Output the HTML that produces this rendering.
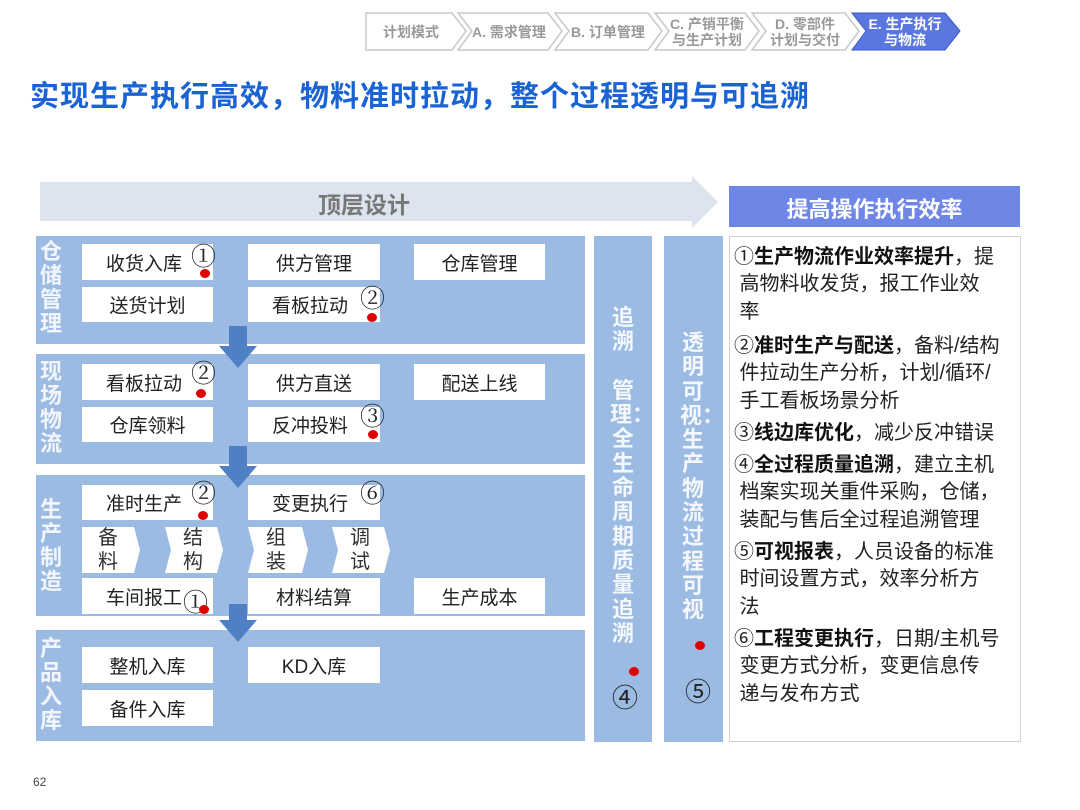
<!DOCTYPE html>
<html><head><meta charset="utf-8"><style>
body{margin:0;width:1080px;height:810px;background:#fff;position:relative;overflow:hidden;font-family:"Liberation Sans","Noto Sans CJK SC",sans-serif}
.a{position:absolute}
.box{position:absolute;background:#fff;font-size:19px;color:#222;display:flex;align-items:center;justify-content:center}
.lab{position:absolute;color:#f2f6fc;font-weight:bold;font-size:22px;width:24px;line-height:24px;text-align:center;word-break:break-all}
.num{position:absolute;font-family:"Liberation Serif","Noto Serif CJK SC",serif;font-size:25px;color:#222;line-height:25px}
.dot{position:absolute;width:10px;height:9px;border-radius:50%;background:#e00000}
.vt{position:absolute;color:#f4f7fc;font-weight:bold;font-size:22px;width:26px;line-height:24.3px;text-align:center;word-break:break-all}
.rt{position:absolute;left:734px;width:290px;font-size:20px;line-height:27.3px;color:#222;white-space:nowrap}
.rt b{color:#111}
.cv{position:absolute;font-size:20px;color:#333;text-align:center;line-height:24px}
.ch{position:absolute;font-size:14px;color:#999;font-weight:bold;text-align:center;line-height:16px;display:flex;align-items:center;justify-content:center}
</style></head><body>
<svg class="a" style="left:0;top:0" width="1080" height="810">
<g fill="#fff" stroke="#c8c8c8" stroke-width="1.5">
<polygon points="366,13 452,13 466,31 452,50 366,50"/>
<polygon points="458,13 548,13 562,31 548,50 458,50 472,31"/>
<polygon points="555,13 648,13 662,31 648,50 555,50 569,31"/>
<polygon points="655,13 745,13 759,31 745,50 655,50 669,31"/>
<polygon points="752,13 845,13 859,31 845,50 752,50 766,31"/>
</g>
<polygon points="852,13 945,13 960,31 945,50 852,50 866,31" fill="#5a76e0" stroke="#3a55c0" stroke-width="1"/>
<polygon points="40,182 692,182 692,176 718,202 692,228 692,221 40,221" fill="#dbe4ef"/>
<rect x="729" y="186" width="291" height="41" fill="#6e86e6"/>
<g fill="#9cbbe3">
<rect x="36" y="236" width="549" height="108"/>
<rect x="36" y="354" width="549" height="110"/>
<rect x="36" y="475" width="549" height="141"/>
<rect x="36" y="630" width="549" height="111"/>
<rect x="594" y="236" width="58" height="506"/>
<rect x="664" y="236" width="59" height="506"/>
</g>
<rect x="729.5" y="236.5" width="291" height="505" fill="#fff" stroke="#d0d0d0"/>
<g fill="#fff">
<polygon points="82,527 134,527 140,550 134,573 82,573"/>
<polygon points="165,527 217,527 223,550 217,573 165,573 171,550"/>
<polygon points="248,527 302,527 308,550 302,573 248,573 254,550"/>
<polygon points="332,527 384,527 390,550 384,573 332,573 338,550"/>
</g>
<g fill="#4f80c4">
<rect x="229" y="326" width="18" height="22"/><polygon points="219,346 257,346 238,368"/>
<rect x="229" y="446" width="18" height="22"/><polygon points="219,466 257,466 238,488"/>
<rect x="229" y="604" width="18" height="20"/><polygon points="219,620 257,620 238,642"/>
</g>
</svg>
<div class="ch" style="left:366px;top:13px;width:90px;height:37px">计划模式</div>
<div class="ch" style="left:466px;top:13px;width:86px;height:37px">A. 需求管理</div>
<div class="ch" style="left:565px;top:13px;width:86px;height:37px">B. 订单管理</div>
<div class="ch" style="left:664px;top:13px;width:86px;height:37px">C. 产销平衡<br>与生产计划</div>
<div class="ch" style="left:762px;top:13px;width:86px;height:37px">D. 零部件<br>计划与交付</div>
<div class="ch" style="left:862px;top:13px;width:86px;height:37px;color:#fff">E. 生产执行<br>与物流</div>

<div class="a" style="left:30px;top:73px;font-size:29px;font-weight:bold;color:#1a63d4;letter-spacing:1px">实现生产执行高效，物料准时拉动，整个过程透明与可追溯</div>
<div class="a" style="left:318px;top:186px;font-size:23px;font-weight:bold;color:#777">顶层设计</div>
<div class="a" style="left:729px;top:192px;width:291px;text-align:center;font-size:22px;font-weight:bold;color:#fff">提高操作执行效率</div>

<div class="lab" style="left:39px;top:240px">仓储管理</div>
<div class="lab" style="left:39px;top:360px">现场物流</div>
<div class="lab" style="left:39px;top:498px">生产制造</div>
<div class="lab" style="left:39px;top:637px">产品入库</div>

<div class="box" style="left:82px;top:244px;width:131px;height:36px;justify-content:flex-start;padding-left:24px;box-sizing:border-box">收货入库</div>
<div class="box" style="left:248px;top:244px;width:132px;height:36px">供方管理</div>
<div class="box" style="left:414px;top:244px;width:131px;height:36px">仓库管理</div>
<div class="box" style="left:82px;top:287px;width:131px;height:35px">送货计划</div>
<div class="box" style="left:248px;top:287px;width:132px;height:35px;justify-content:flex-start;padding-left:24px;box-sizing:border-box">看板拉动</div>

<div class="box" style="left:82px;top:364px;width:131px;height:36px;justify-content:flex-start;padding-left:24px;box-sizing:border-box">看板拉动</div>
<div class="box" style="left:248px;top:364px;width:132px;height:36px">供方直送</div>
<div class="box" style="left:414px;top:364px;width:131px;height:36px">配送上线</div>
<div class="box" style="left:82px;top:407px;width:131px;height:35px">仓库领料</div>
<div class="box" style="left:248px;top:407px;width:132px;height:35px;justify-content:flex-start;padding-left:24px;box-sizing:border-box">反冲投料</div>

<div class="box" style="left:82px;top:485px;width:131px;height:35px;justify-content:flex-start;padding-left:24px;box-sizing:border-box">准时生产</div>
<div class="box" style="left:248px;top:485px;width:132px;height:35px;justify-content:flex-start;padding-left:24px;box-sizing:border-box">变更执行</div>
<div class="cv" style="left:96px;top:526px;width:24px">备<br>料</div>
<div class="cv" style="left:181px;top:526px;width:24px">结<br>构</div>
<div class="cv" style="left:264px;top:526px;width:24px">组<br>装</div>
<div class="cv" style="left:348px;top:526px;width:24px">调<br>试</div>
<div class="box" style="left:82px;top:578px;width:131px;height:36px;justify-content:flex-start;padding-left:24px;box-sizing:border-box">车间报工</div>
<div class="box" style="left:248px;top:578px;width:132px;height:36px">材料结算</div>
<div class="box" style="left:414px;top:578px;width:131px;height:36px">生产成本</div>

<div class="box" style="left:82px;top:647px;width:131px;height:36px">整机入库</div>
<div class="box" style="left:248px;top:647px;width:132px;height:36px">KD入库</div>
<div class="box" style="left:82px;top:690px;width:131px;height:36px">备件入库</div>

<div class="num" style="left:191px;top:245px">①</div><div class="dot" style="left:200px;top:269px"></div>
<div class="num" style="left:360px;top:287px">②</div><div class="dot" style="left:367px;top:313px"></div>
<div class="num" style="left:191px;top:362px">②</div><div class="dot" style="left:196px;top:389px"></div>
<div class="num" style="left:360px;top:405px">③</div><div class="dot" style="left:368px;top:430px"></div>
<div class="num" style="left:191px;top:482px">②</div><div class="dot" style="left:198px;top:511px"></div>
<div class="num" style="left:360px;top:482px">⑥</div>
<div class="num" style="left:183px;top:591px">①</div><div class="dot" style="left:199px;top:605px"></div>

<div class="vt" style="left:610px;top:306px">追溯<br>&nbsp;<br>管理：全生命周期质量追溯</div>
<div class="dot" style="left:629px;top:667px"></div>
<div class="a" style="left:612px;top:678px;font-size:26px;color:#222">④</div>
<div class="vt" style="left:680px;top:331px">透明可视：生产物流过程可视</div>
<div class="dot" style="left:695px;top:641px"></div>
<div class="a" style="left:685px;top:672px;font-size:26px;color:#222">⑤</div>

<div class="rt" style="top:244px">①<b>生产物流作业效率提升</b>，提<br>&nbsp;高物料收发货，报工作业效<br>&nbsp;率</div>
<div class="rt" style="top:333px">②<b>准时生产与配送</b>，备料/结构<br>&nbsp;件拉动生产分析，计划/循环/<br>&nbsp;手工看板场景分析</div>
<div class="rt" style="top:420px">③<b>线边库优化</b>，减少反冲错误</div>
<div class="rt" style="top:452px">④<b>全过程质量追溯</b>，建立主机<br>&nbsp;档案实现关重件采购，仓储，<br>&nbsp;装配与售后全过程追溯管理</div>
<div class="rt" style="top:539px">⑤<b>可视报表</b>，人员设备的标准<br>&nbsp;时间设置方式，效率分析方<br>&nbsp;法</div>
<div class="rt" style="top:626px">⑥<b>工程变更执行</b>，日期/主机号<br>&nbsp;变更方式分析，变更信息传<br>&nbsp;递与发布方式</div>

<div class="a" style="left:33px;top:775px;font-size:12px;color:#444">62</div>
</body></html>
